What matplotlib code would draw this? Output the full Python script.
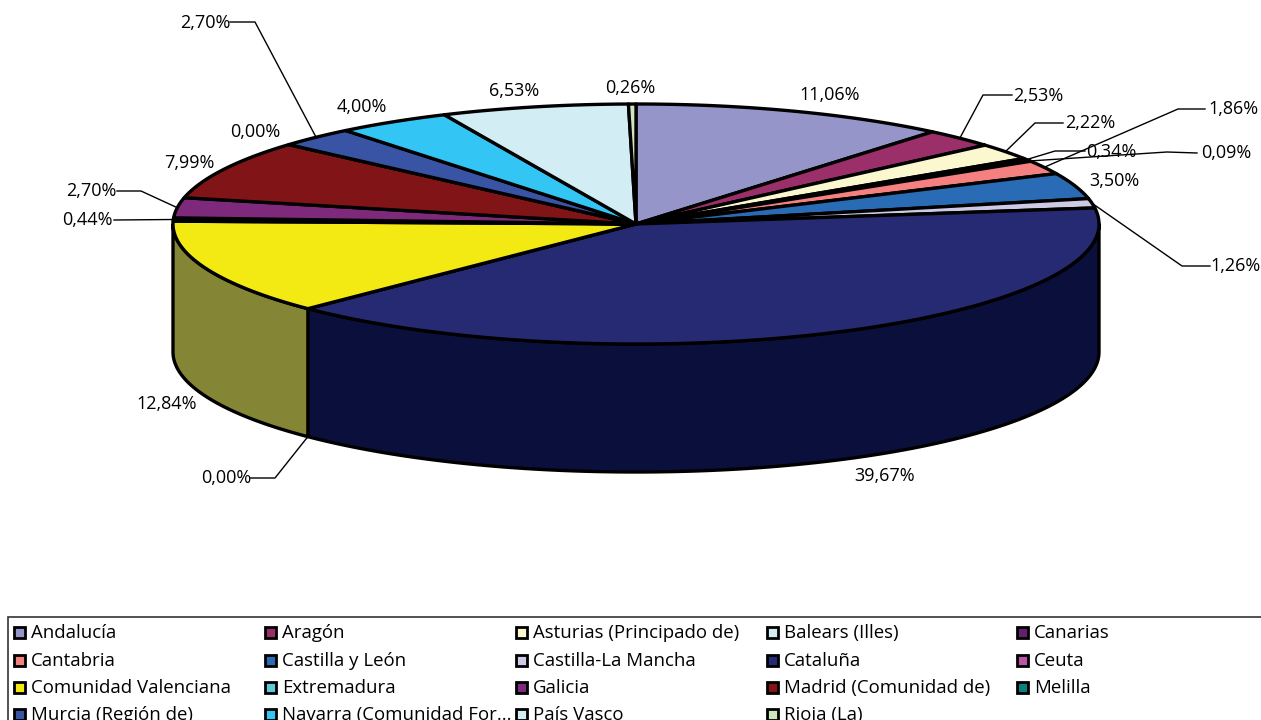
import numpy as np
import matplotlib
matplotlib.use("Agg")
import matplotlib.pyplot as plt
from matplotlib.patches import Polygon, Rectangle

plt.rcParams['font.family'] = ['Open Sans', 'DejaVu Sans']

# data
regiones = ["Andalucía", "Aragón", "Asturias (Principado de)", "Balears (Illes)", "Canarias",
            "Cantabria", "Castilla y León", "Castilla-La Mancha", "Cataluña", "Ceuta",
            "Comunidad Valenciana", "Extremadura", "Galicia", "Madrid (Comunidad de)", "Melilla",
            "Murcia (Región de)", "Navarra (Comunidad For...", "País Vasco", "Rioja (La)"]
valores = [11.06, 2.53, 2.22, 0.34, 0.09, 1.86, 3.50, 1.26, 39.67, 0.00,
           12.84, 0.44, 2.70, 7.99, 0.00, 2.70, 4.00, 6.53, 0.26]
colores = ["#9595C9", "#9A2F69", "#FBF8CF", "#D3EDF4", "#62206F",
           "#F58080", "#2A6BB5", "#CDCAE6", "#262A72", "#BC55A6",
           "#F3EA14", "#63C7D6", "#7F297D", "#811416", "#0A7F7F",
           "#3954A4", "#33C5F3", "#D3EDF4", "#CFE5C0"]
# colour of the visible side, only these slices reach the front
colores_lado = {8: "#0A0F3C", 10: "#848535", 11: "#3E7F88"}

# layout of the pie in pixels
cx, cy, rx, ry, prof = 636, 224, 463, 120, 128

# label position, leader line (elbow then end at the label), one per value
pos_etiq = [(830, 95), (1038, 96), (1090, 123), (1111, 152), (1226, 153), (1233, 109),
            (1114, 181), (1236, 266), (885, 476), (226, 478), (167, 404), (87, 220),
            (91, 191), (189, 163), (255, 132), (205, 23), (362, 107), (514, 91), (630, 88)]
codos = {1: [(983, 95), (1012, 95)], 2: [(1035, 123), (1063, 123)],
         3: [(1055, 151), (1085, 151)], 4: [(1167, 152), (1197, 153)],
         5: [(1178, 109), (1205, 109)], 7: [(1182, 266), (1210, 266)],
         11: [(114, 220)], 12: [(141, 191), (117, 191)],
         15: [(255, 22), (230, 22)]}


def borde(t, dy=0):
    return cx + rx * np.sin(t), cy - ry * np.cos(t) + dy


fig = plt.figure(figsize=(12.61, 7.2), dpi=100)
ax = fig.add_axes([0, 0, 1, 1])
ax.set_xlim(0, 1261)
ax.set_ylim(720, 0)
ax.axis('off')

acum = np.cumsum([0] + valores) / sum(valores) * 2 * np.pi

# side of the cylinder, only the front half is visible
for i in range(len(valores)):
    t0, t1 = max(acum[i], np.pi / 2), min(acum[i + 1], 3 * np.pi / 2)
    if t1 <= t0:
        continue
    t = np.linspace(t0, t1, 200)
    x, y = borde(t)
    xb, yb = borde(t[::-1], prof)
    ax.add_patch(Polygon(np.r_[np.c_[x, y], np.c_[xb, yb]], closed=True,
                         fc=colores_lado.get(i, colores[i]),
                         ec='black', lw=2.4, joinstyle='round', zorder=2))

# top of the pie
for i in range(len(valores)):
    t = np.linspace(acum[i], acum[i + 1], 200)
    x, y = borde(t)
    ax.add_patch(Polygon(np.r_[[[cx, cy]], np.c_[x, y]], closed=True, fc=colores[i],
                         ec='black', lw=2.4, joinstyle='round', zorder=3))

# labels and leaders
for i, p in enumerate(pos_etiq):
    texto = f"{valores[i]:.2f}%".replace('.', ',')
    ax.text(p[0], p[1], texto, fontsize=13, ha='center', va='center', color='black', zorder=6)
    medio = (acum[i] + acum[i + 1]) / 2
    if i in codos:
        x0, y0 = borde(medio)
        pts = [(x0, y0)] + codos[i]
        ax.plot(*zip(*pts), color='black', lw=1, zorder=5)
# Ceuta has no slice, its leader starts at the bottom edge of the side
x0, y0 = borde(acum[9], prof)
ax.plot([x0, 275, 250], [y0, 478, 478], color='black', lw=1, zorder=5)

# legend, cut by the border of the image
ax.add_patch(Rectangle((8, 617), 1300, 200, fc='white', ec='#333333', lw=1.2, zorder=1))
col_x = [14, 265, 516, 767, 1017]
fila_y = [632, 660, 687, 714]
for i, nombre in enumerate(regiones):
    xl, yl = col_x[i % 5], fila_y[i // 5]
    ax.add_patch(Rectangle((xl, yl - 5.5), 11, 11, fc=colores[i], ec='black', lw=2, zorder=3))
    ax.text(xl + 17, yl + 1, nombre, fontsize=13.4, ha='left', va='center', color='black', zorder=3)

fig.savefig('out.png', dpi=100)
